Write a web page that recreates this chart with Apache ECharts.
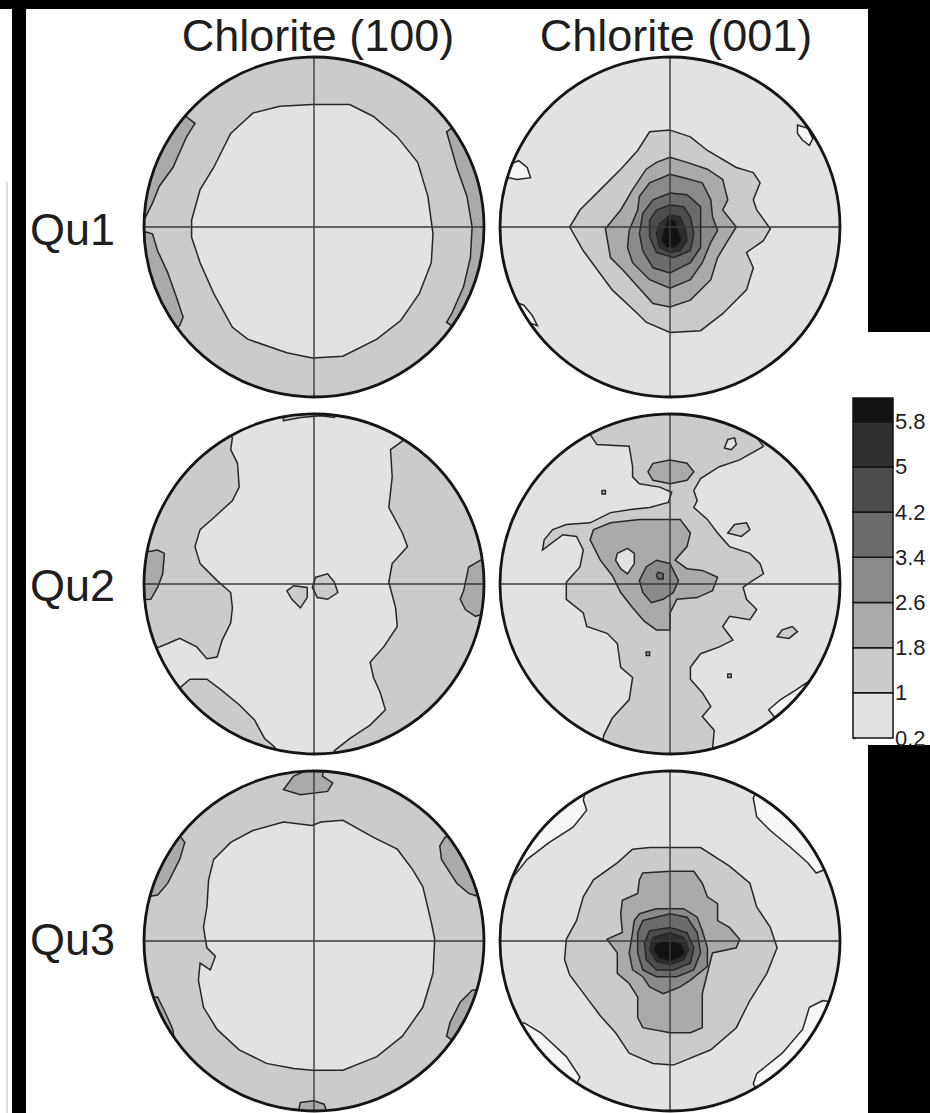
<!DOCTYPE html>
<html>
<head>
<meta charset="utf-8">
<script src="https://cdn.jsdelivr.net/npm/echarts@6/dist/echarts.min.js"></script>
<style>
html, body { margin: 0; padding: 0; background: #fff; }
#chart { width: 930px; height: 1113px; }
</style>
</head>
<body>
<div id="chart"></div>
<script>
// contour levels (multiples of a uniform distribution)
var levels = [0.2, 1, 1.8, 2.6, 3.4, 4.2, 5, 5.8];
var legendTop = 6.22;
var colTitles = ['Chlorite (100)', 'Chlorite (001)'];
var rowNames = ['Qu1', 'Qu2', 'Qu3'];

// the whole primitive circle
var DISK = [[110, 0], [0, 110], [-110, 0], [0, -110]];

// contours per pole figure: [lower level, outline]
// outline points in % of the primitive radius, x to the east, y to the north
var qu1_100 = [
  [1, DISK],
  [0.2, [[-1,72],[21,72],[35,65],[49,53],[61,38],[67,18],[70,-4],[69,-21],[62,-39],[51,-55],[37,-66],[17,-76],[-1,-77],[-16,-74],[-39,-66],[-48,-59],[-59,-39],[-67,-21],[-72,-6],[-72,4],[-67,22],[-59,35],[-49,55],[-36,67],[-20,71]]],
  [1.8, [[78,56],[84,35],[90,18],[93,0],[92,-18],[88,-35],[81,-51],[78,-56],[92,-66],[115,0],[92,66]]],
  [1.8, [[-70,61],[-75,53],[-83,35],[-91,24],[-95,14],[-98,8],[-115,5],[-110,40],[-87,75]]],
  [1.8, [[-95,-4],[-92,-14],[-86,-27],[-81,-41],[-77,-53],[-79,-58],[-95,-70],[-110,-35],[-115,-3]]]
];

var qu1_001 = [
  [0.2, DISK],
  [0, [[-94,38],[-89,39],[-84,35],[-82,29],[-90,28],[-95,29],[-110,33]]],
  [0, [[-86,-46],[-81,-52],[-78,-58],[-95,-65],[-100,-50]]],
  [0, [[75,60],[81,58],[84,52],[82,48],[78,51],[75,55]]],
  [1, [[0,57],[12,53],[22,45],[39,35],[49,32],[53,26],[49,16],[51,10],[59,-1],[55,-8],[45,-15],[49,-24],[45,-37],[31,-51],[18,-61],[0,-62],[-14,-56],[-19,-51],[-34,-37],[-51,-14],[-59,0],[-53,10],[-41,22],[-29,34],[-19,45],[-12,56]]],
  [1.8, [[0,41],[10,38],[22,34],[31,28],[34,16],[31,10],[39,0],[34,-8],[28,-18],[24,-31],[12,-43],[0,-47],[-10,-45],[-19,-35],[-28,-25],[-35,-18],[-38,-1],[-29,10],[-22,22],[-14,34],[-8,38]]],
  [2.6, [[0,31],[8,29],[19,26],[24,16],[25,6],[28,-2],[24,-9],[19,-21],[12,-31],[0,-36],[-12,-31],[-22,-21],[-25,-12],[-24,-2],[-19,10],[-18,18],[-12,26]]],
  [3.4, [[0,20],[10,19],[18,12],[18,-2],[18,-12],[12,-21],[0,-27],[-10,-24],[-16,-14],[-18,-4],[-16,8],[-10,16]]],
  [4.2, [[0,13],[8,12],[12,6],[14,-4],[12,-14],[2,-18],[-8,-15],[-12,-6],[-12,4],[-8,10]]],
  [5, [[0,7],[6,6],[9,-1],[10,-8],[6,-14],[0,-15],[-6,-12],[-8,-4],[-6,2]]],
  [5.8, [[-1,5],[3,4],[5,-2],[7,-8],[3,-12],[-2,-12],[-5,-8],[-4,-2]]]
];

var qu2_100 = [
  [0.2, DISK],
  [1, [[-48,86],[-49,79],[-45,71],[-44,57],[-48,49],[-59,39],[-67,32],[-70,22],[-67,12],[-57,2],[-49,-5],[-48,-14],[-49,-23],[-54,-33],[-57,-43],[-63,-44],[-69,-37],[-79,-32],[-86,-35],[-91,-37],[-105,-42],[-115,0],[-100,60],[-56,100]]],
  [1, [[52,84],[45,79],[46,63],[44,45],[52,30],[55,22],[46,12],[44,1],[48,-14],[49,-25],[41,-37],[33,-46],[35,-55],[39,-64],[42,-74],[33,-83],[21,-91],[12,-98],[14,-115],[60,-100],[115,0],[60,100]]],
  [1, [[-80,-62],[-73,-56],[-63,-56],[-55,-62],[-44,-71],[-35,-80],[-29,-91],[-23,-96],[-27,-112],[-75,-90],[-95,-65]]],
  [1, [[-18,96],[-8,98],[4,99],[12,98],[14,110],[-20,110]]],
  [1, [[1,4],[8,6],[12,1],[14,-5],[8,-9],[2,-8],[-1,-2]]],
  [1, [[-16,-4],[-12,-1],[-4,-2],[-4,-8],[-8,-14],[-13,-9]]],
  [1.8, [[98,14],[91,10],[88,-4],[86,-9],[89,-15],[95,-19],[110,-20],[115,0],[110,16]]],
  [1.8, [[-98,19],[-92,20],[-88,18],[-89,6],[-92,-2],[-96,-9],[-110,-10],[-115,5],[-110,22]]]
];

var qu2_001 = [
  [0.2, DISK],
  [1, [[-47,88],[-43,82],[-24,81],[-22,69],[-22,63],[-18,59],[-6,57],[1,54],[-1,48],[-12,45],[-22,44],[-35,42],[-47,36],[-61,35],[-69,32],[-74,26],[-75,20],[-71,23],[-63,29],[-55,28],[-51,20],[-53,10],[-61,1],[-61,-9],[-51,-17],[-49,-25],[-37,-29],[-31,-35],[-29,-49],[-22,-55],[-24,-68],[-34,-79],[-39,-89],[-45,-105],[0,-115],[29,-112],[26,-86],[19,-78],[24,-72],[19,-64],[12,-56],[12,-49],[18,-41],[29,-37],[37,-33],[31,-25],[35,-19],[47,-21],[51,-15],[45,-9],[43,-2],[47,1],[55,6],[53,12],[47,18],[35,22],[28,30],[22,38],[14,45],[16,49],[14,55],[18,62],[29,69],[41,73],[55,81],[60,100],[0,115],[-55,100]]],
  [0.2, [[32,80],[34,85],[38,86],[39,82],[36,79]]],
  [1, [[34,30],[38,35],[45,36],[47,32],[42,28]]],
  [1, [[63,-31],[66,-27],[72,-25],[75,-28],[70,-32]]],
  [1.8, [[-14,-40],[-12,-40],[-12,-42],[-14,-42]]],
  [1, [[34,-53],[36,-53],[36,-55],[34,-55]]],
  [1, [[-40,55],[-38,55],[-38,53],[-40,53]]],
  [0, [[58,-74],[65,-68],[73,-63],[84,-58],[66,-84]]],
  [1.8, [[-13,66],[-10,71],[0,73],[10,71],[14,66],[10,61],[0,59],[-10,61]]],
  [1.8, [[-45,32],[-35,36],[-18,38],[6,38],[12,30],[10,22],[3,14],[10,9],[19,8],[28,4],[25,-4],[16,-8],[4,-9],[0,-17],[0,-27],[-8,-27],[-15,-22],[-22,-14],[-29,-5],[-34,5],[-41,14],[-47,26]]],
  [0.2, [[-31,18],[-25,21],[-21,18],[-21,12],[-25,6],[-29,9],[-32,14]]],
  [2.6, [[-8,14],[0,12],[5,2],[2,-5],[-4,-9],[-11,-11],[-16,-5],[-18,2],[-14,10]]],
  [3.4, [[-7,7],[-4,6],[-4,3],[-7,3],[-8,5]]]
];

var qu3_100 = [
  [1, DISK],
  [0.2, [[-1,68],[-18,70],[-36,65],[-49,58],[-59,48],[-62,36],[-63,20],[-65,8],[-63,-4],[-58,-9],[-61,-17],[-67,-13],[-68,-23],[-65,-39],[-57,-52],[-44,-64],[-28,-72],[-12,-75],[-1,-76],[17,-76],[37,-68],[52,-56],[64,-39],[70,-19],[71,1],[69,11],[64,32],[58,42],[49,54],[35,61],[17,71],[4,70]]],
  [1.8, [[-18,89],[-12,97],[-6,110],[6,110],[5,97],[11,93],[8,88],[-8,86]]],
  [1.8, [[-76,58],[-79,48],[-86,34],[-92,27],[-110,30],[-92,72]]],
  [1.8, [[77,61],[74,56],[75,48],[84,34],[91,28],[110,30],[92,72]]],
  [1.8, [[93,-29],[86,-36],[80,-48],[78,-56],[92,-66],[110,-33]]],
  [1.8, [[-92,-33],[-88,-41],[-83,-52],[-92,-63],[-108,-38]]],
  [1.8, [[-8,-95],[0,-94],[6,-96],[8,-110],[-10,-110]]]
];

var qu3_001 = [
  [0.2, DISK],
  [0, [[-51,83],[-49,77],[-57,67],[-71,58],[-84,48],[-92,38],[-110,45],[-90,80],[-55,95]]],
  [0, [[49,84],[51,73],[59,65],[71,55],[81,46],[86,40],[104,48],[85,80],[55,95]]],
  [0, [[90,-35],[82,-39],[78,-52],[66,-66],[51,-78],[49,-84],[57,-98],[90,-75],[105,-40]]],
  [0, [[-86,-48],[-76,-54],[-61,-68],[-53,-80],[-55,-84],[-60,-100],[-95,-70],[-102,-57]]],
  [1, [[0,55],[18,55],[35,44],[47,34],[51,20],[59,8],[63,-4],[57,-19],[47,-35],[39,-51],[24,-64],[2,-73],[-10,-72],[-24,-66],[-32,-54],[-41,-44],[-50,-32],[-59,-20],[-62,-11],[-61,1],[-55,12],[-51,26],[-45,36],[-31,46],[-22,54],[-12,55]]],
  [1.8, [[-16,40],[0,41],[14,41],[19,34],[22,26],[28,22],[28,12],[35,8],[41,1],[39,-4],[25,-7],[22,-19],[19,-31],[19,-41],[19,-51],[12,-54],[0,-54],[-16,-51],[-19,-45],[-19,-33],[-24,-25],[-31,-19],[-31,-7],[-37,1],[-35,2],[-28,5],[-29,16],[-28,24],[-19,28],[-18,36]]],
  [2.6, [[-18,16],[-8,19],[8,19],[16,14],[19,6],[22,-4],[22,-15],[12,-23],[6,-27],[-4,-31],[-12,-27],[-16,-21],[-22,-17],[-24,-7],[-22,5],[-21,12]]],
  [3.4, [[-16,12],[0,16],[10,14],[16,5],[18,-7],[14,-17],[4,-21],[-8,-21],[-16,-17],[-19,-7],[-19,5]]],
  [4.2, [[-12,6],[0,8],[10,5],[14,-4],[12,-13],[2,-17],[-8,-17],[-14,-11],[-15,-1]]],
  [5, [[-10,2],[0,5],[8,2],[11,-5],[8,-11],[0,-14],[-8,-12],[-12,-5]]],
  [5.8, [[-8,-1],[0,1],[7,-2],[9,-7],[6,-10],[0,-12],[-7,-10],[-10,-5]]]
];

var figures = [qu1_100, qu1_001, qu2_100, qu2_001, qu3_100, qu3_001];

// layout
var centers = [[314, 227], [670, 227], [314, 584], [670, 584], [314, 941], [670, 941]];
var R = 170;
var shade = {
  '0': '#f6f6f6', '0.2': '#e2e2e2', '1': '#cbcbcb', '1.8': '#aaaaaa', '2.6': '#8a8a8a',
  '3.4': '#6b6b6b', '4.2': '#4c4c4c', '5': '#2f2f2f', '5.8': '#121212'
};
var FONT = '"Liberation Sans", Arial, Helvetica, sans-serif';

// outline -> pixel points; parts outside the primitive follow the circle
function outlinePoints(pts, api) {
  var out = [];
  var n = pts.length;
  function polar(p) {
    var r = Math.sqrt(p[0] * p[0] + p[1] * p[1]);
    return [Math.min(r, 100), Math.atan2(p[1], p[0]) * 180 / Math.PI, r >= 100];
  }
  for (var i = 0; i < n; i++) {
    var a = polar(pts[i]);
    var b = polar(pts[(i + 1) % n]);
    out.push(api.coord([a[0], a[1]]));
    if (a[2] && b[2]) {
      var d = b[1] - a[1];
      while (d > 180) d -= 360;
      while (d < -180) d += 360;
      var steps = Math.ceil(Math.abs(d) / 2);
      for (var k = 1; k < steps; k++) {
        out.push(api.coord([100, a[1] + d * k / steps]));
      }
    }
  }
  return out;
}

function figureSeries(fig, k) {
  return {
    type: 'custom',
    coordinateSystem: 'polar',
    polarIndex: k,
    silent: true,
    data: fig.map(function () { return [0, 0]; }),
    renderItem: function (params, api) {
      var c = fig[params.dataIndex];
      return {
        type: 'polygon',
        shape: { points: outlinePoints(c[1], api) },
        style: {
          fill: shade[String(c[0])],
          stroke: c[1] === DISK ? null : '#262626',
          lineWidth: 1.5
        }
      };
    }
  };
}

var bands = levels.map(function (v, i) {
  return [v, i < levels.length - 1 ? levels[i + 1] : legendTop];
});

var legendSeries = {
  type: 'custom',
  coordinateSystem: 'cartesian2d',
  silent: true,
  data: bands,
  renderItem: function (params, api) {
    var lo = api.coord([0, api.value(0)]);
    var hi = api.coord([1, api.value(1)]);
    return {
      type: 'rect',
      shape: { x: lo[0], y: hi[1], width: hi[0] - lo[0], height: lo[1] - hi[1] },
      style: { fill: shade[String(levels[params.dataIndex])], stroke: '#151515', lineWidth: 1.5 }
    };
  }
};

var graphics = [
  { type: 'rect', shape: { x: 0, y: 0, width: 930, height: 9 }, style: { fill: '#000' } },
  { type: 'rect', shape: { x: 12, y: 0, width: 14, height: 1113 }, style: { fill: '#000' } },
  { type: 'rect', shape: { x: 868, y: 0, width: 62, height: 332 }, style: { fill: '#000' } },
  { type: 'rect', shape: { x: 868, y: 745, width: 62, height: 368 }, style: { fill: '#000' } },
  { type: 'line', shape: { x1: 7, y1: 182, x2: 7, y2: 1113 }, style: { stroke: '#bbb', lineWidth: 1 } }
];
colTitles.forEach(function (t, j) {
  graphics.push({
    type: 'text', x: [318, 676][j], y: 35,
    style: { text: t, fontSize: 45, fontFamily: FONT, fill: '#1e1e1e',
      align: 'center', textAlign: 'center', verticalAlign: 'middle', textVerticalAlign: 'middle' }
  });
});
rowNames.forEach(function (t, i) {
  graphics.push({
    type: 'text', x: 30, y: [229, 585, 939][i],
    style: { text: t, fontSize: 45, fontFamily: FONT, fill: '#1e1e1e',
      align: 'left', textAlign: 'left', verticalAlign: 'middle', textVerticalAlign: 'middle' }
  });
});

var option = {
  animation: false,
  backgroundColor: '#fff',
  polar: centers.map(function (c) { return { center: [c[0], c[1]], radius: R }; }),
  angleAxis: centers.map(function (c, i) {
    return {
      polarIndex: i, type: 'value', min: 0, max: 360, interval: 90,
      startAngle: 0, clockwise: false, z: 10,
      axisLine: { lineStyle: { color: '#151515', width: 2.8 } },
      axisTick: { show: false }, axisLabel: { show: false },
      splitLine: { show: true, lineStyle: { color: '#3a3a3a', width: 1.4 } }
    };
  }),
  radiusAxis: centers.map(function (c, i) {
    return {
      polarIndex: i, type: 'value', min: 0, max: 100,
      axisLine: { show: false }, axisTick: { show: false },
      axisLabel: { show: false }, splitLine: { show: false }
    };
  }),
  grid: { left: 853, top: 398, width: 40, height: 340 },
  xAxis: { type: 'value', min: 0, max: 1, show: false },
  yAxis: {
    type: 'value', min: 0.2, max: legendTop, position: 'right',
    axisLine: { show: false }, splitLine: { show: false },
    axisTick: { show: true, customValues: levels, length: 3, lineStyle: { color: '#222', width: 1.2 } },
    axisLabel: { customValues: levels, margin: 2, fontSize: 22, color: '#222', fontFamily: FONT }
  },
  graphic: graphics,
  series: figures.map(figureSeries).concat([legendSeries])
};

var chart = echarts.init(document.getElementById('chart'), null, { renderer: 'svg' });
chart.setOption(option);
</script>
</body>
</html>
